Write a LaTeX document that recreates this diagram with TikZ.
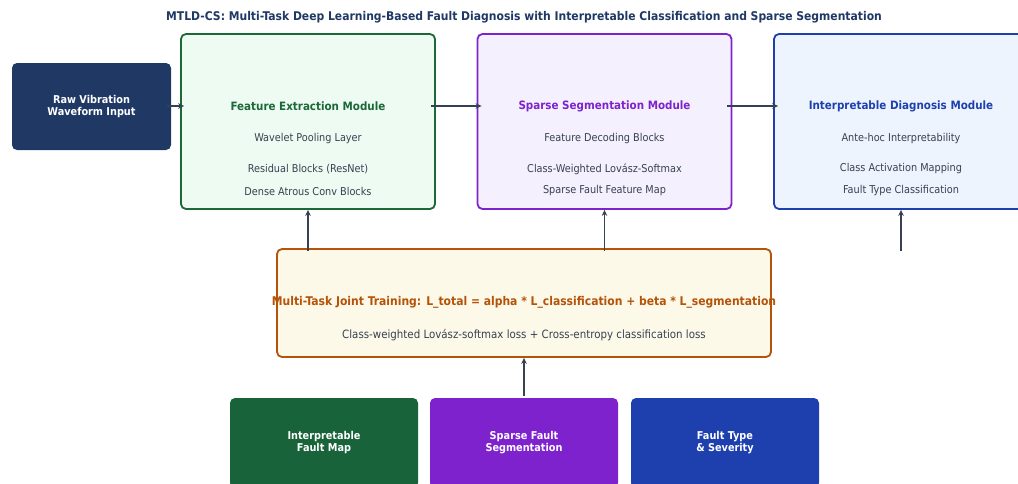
\documentclass[tikz,border=0pt]{standalone}
\usepackage{fontspec}
\setmainfont{DejaVu Sans Condensed}
\usetikzlibrary{arrows.meta}

\definecolor{navy}{RGB}{31,56,100}
\definecolor{featgreen}{RGB}{27,104,56}
\definecolor{featfill}{RGB}{238,251,242}
\definecolor{segpurple}{RGB}{126,34,206}
\definecolor{segfill}{RGB}{244,240,253}
\definecolor{diagblue}{RGB}{30,64,175}
\definecolor{diagfill}{RGB}{238,244,254}
\definecolor{trainorange}{RGB}{180,83,9}
\definecolor{trainfill}{RGB}{253,249,233}
\definecolor{slate}{RGB}{55,65,81}
\definecolor{outgreen}{RGB}{24,99,58}

\tikzset{
  module/.style={draw=#1, line width=1.8pt, rounded corners=5pt,
    minimum width=254pt, minimum height=175pt},
  solid box/.style={fill=#1, rounded corners=5pt, text=white,
    font=\bfseries\fontsize{10.8}{12}\selectfont, align=center},
  head/.style={font=\bfseries\fontsize{11.5}{13}\selectfont},
  item/.style={text=slate, font=\fontsize{10.8}{12}\selectfont},
  flow/.style={draw=slate, line width=1.4pt, -{Stealth[length=6pt,width=5.5pt]}},
}

\begin{document}
\begin{tikzpicture}[x=1pt, y=-1pt]
  \useasboundingbox (0,0) rectangle (1018,483);

  % title
  \node[text=navy, font=\bfseries\fontsize{12}{14}\selectfont] (title) at (524,17)
    {MTLD-CS: Multi-Task Deep Learning-Based Fault Diagnosis with Interpretable Classification and Sparse Segmentation};

  % input
  \node[solid box=navy, minimum width=159pt, minimum height=87pt] (raw) at (91.5,106.5)
    {Raw Vibration\\Waveform Input};

  % the three modules
  \node[module=featgreen, fill=featfill] (feat) at (308,121.5) {};
  \node[module=segpurple, fill=segfill] (seg) at (604.5,121.5) {};
  \node[module=diagblue, fill=diagfill] (diag) at (901,121.5) {};

  \node[head, text=featgreen] (feath) at (308,106) {Feature Extraction Module};
  \node[item] (feat1) at (308,139) {Wavelet Pooling Layer};
  \node[item] (feat2) at (308,169) {Residual Blocks (ResNet)};
  \node[item] (feat3) at (308,191) {Dense Atrous Conv Blocks};

  \node[head, text=segpurple] (segh) at (604.5,106) {Sparse Segmentation Module};
  \node[item] (seg1) at (604.5,139) {Feature Decoding Blocks};
  \node[item] (seg2) at (604.5,169) {Class-Weighted Lovász-Softmax};
  \node[item] (seg3) at (604.5,191) {Sparse Fault Feature Map};

  \node[head, text=diagblue] (diagh) at (901,106) {Interpretable Diagnosis Module};
  \node[item] (diag1) at (901,139) {Ante-hoc Interpretability};
  \node[item] (diag2) at (901,169) {Class Activation Mapping};
  \node[item] (diag3) at (901,191) {Fault Type Classification};

  % joint training
  \node[draw=trainorange, fill=trainfill, line width=1.8pt, rounded corners=5pt,
    minimum width=494pt, minimum height=108pt] (train) at (524,303) {};
  \node[text=trainorange, font=\bfseries\fontsize{12}{14}\selectfont] (trainh) at (524,302)
    {Multi-Task Joint Training: L\_total = alpha * L\_classification + beta * L\_segmentation};
  \node[item, font=\fontsize{11.4}{13}\selectfont] (train1) at (524,335)
    {Class-weighted Lovász-softmax loss + Cross-entropy classification loss};

  % outputs
  \node[solid box=outgreen, minimum width=188pt, minimum height=90pt] (mapout) at (324,443)
    {Interpretable\\Fault Map};
  \node[solid box=segpurple, minimum width=188pt, minimum height=90pt] (segout) at (524,443)
    {Sparse Fault\\Segmentation};
  \node[solid box=diagblue, minimum width=188pt, minimum height=90pt] (typeout) at (725,443)
    {Fault Type\\\& Severity};

  % connectors
  \draw[flow] ([xshift=-4pt]raw.east |- feath) -- ([xshift=4pt]feat.west |- feath);
  \draw[flow] ([xshift=-5pt]feat.east |- feath) -- ([xshift=5pt]seg.west |- segh);
  \draw[flow] ([xshift=-5pt]seg.east |- segh) -- ([xshift=5pt]diag.west |- diagh);
  \foreach \m in {feat,seg,diag}
    \draw[flow] (\m.south |- train.north) ++(0,3) -- (\m.south);
  \draw[flow] ([yshift=2pt]segout.north) -- (train.south);
\end{tikzpicture}
\end{document}
